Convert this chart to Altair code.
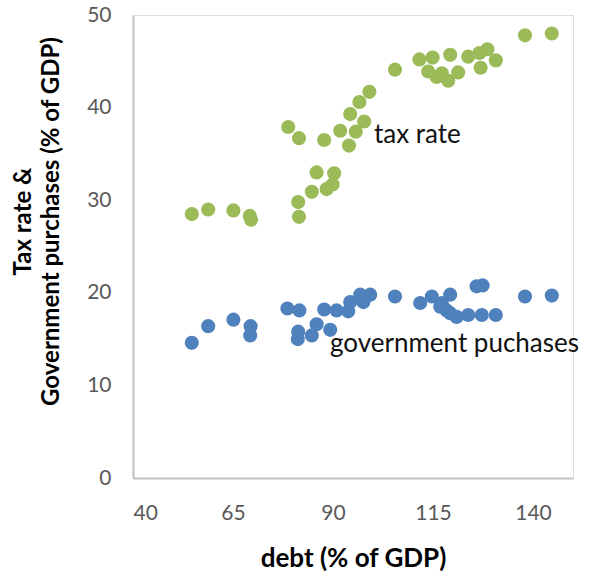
import altair as alt
import pandas as pd

# Debt (% of GDP) against tax rate and government purchases (% of GDP)
debt_tax = [54.7, 58.8, 65.1, 69.2, 69.5, 81.3, 81.5, 84.7, 85.9, 88.4, 90.3, 89.9,
            78.8, 81.5, 87.8, 91.8, 94.0, 95.7, 97.8, 94.3, 96.6, 99.1, 105.5, 111.6,
            114.9, 119.3, 113.8, 115.9, 118.8, 121.3, 117.2, 123.8, 126.6, 128.6,
            126.9, 130.7, 138.0, 144.7]
tax_rate = [28.5, 29.0, 28.9, 28.3, 27.9, 29.8, 28.2, 30.9, 33.0, 31.2, 32.9, 31.7,
            37.9, 36.7, 36.5, 37.5, 35.9, 37.4, 38.5, 39.3, 40.6, 41.7, 44.1, 45.2,
            45.4, 45.7, 43.9, 43.3, 42.9, 43.8, 43.7, 45.5, 45.9, 46.3,
            44.3, 45.1, 47.8, 48.0]

debt_gov = [54.7, 58.8, 65.1, 69.4, 69.3, 78.6, 81.6, 81.3, 81.2, 84.7, 85.9, 89.3,
            87.8, 90.9, 93.8, 94.3, 96.8, 99.3, 97.6, 105.5, 111.8, 114.7, 119.3,
            117.2, 118.4, 120.9, 123.8, 125.9, 127.4, 127.2, 130.7, 138.0, 144.7,
            116.8, 119.3]
gov_purchases = [14.6, 16.4, 17.1, 16.4, 15.4, 18.3, 18.1, 15.8, 15.0, 15.4, 16.6, 16.0,
                 18.2, 18.1, 18.0, 19.0, 19.8, 19.8, 19.0, 19.6, 18.9, 19.6, 19.8,
                 18.9, 18.1, 17.4, 17.6, 20.7, 20.8, 17.6, 17.6, 19.6, 19.7,
                 18.5, 17.8]

series_labels = ["tax rate", "government puchases"]
label_x = [100.25, 89.25]
label_y = [36.2, 13.6]

df = pd.concat([
    pd.DataFrame({"debt": debt_tax, "value": tax_rate, "series": "tax"}),
    pd.DataFrame({"debt": debt_gov, "value": gov_purchases, "series": "gov"}),
])
labels = pd.DataFrame({"debt": label_x, "value": label_y, "text": series_labels})

FONT = "Lato"
AXIS_GREY = "#BFBFBF"
LABEL_GREY = "#595959"

x_enc = alt.X(
    "debt:Q",
    scale=alt.Scale(domain=[40, 150], nice=False, zero=False),
    axis=alt.Axis(
        values=[40, 65, 90, 115, 140], title="debt (% of GDP)", grid=False,
        ticks=False, domainColor=AXIS_GREY, domainWidth=2,
        labelFont=FONT, labelFontSize=21, labelColor=LABEL_GREY, labelPadding=24,
        titleFont=FONT, titleFontSize=26, titleFontWeight="bold", titleColor="#000000",
        titleY=88, titleBaseline="alphabetic",
    ),
)
y_enc = alt.Y(
    "value:Q",
    scale=alt.Scale(domain=[0, 50], nice=False),
    axis=alt.Axis(
        values=[0, 10, 20, 30, 40, 50], title=["Tax rate &", "Government purchases (% of GDP)"],
        grid=False, ticks=False, domainColor=AXIS_GREY, domainWidth=2,
        labelFont=FONT, labelFontSize=21, labelColor=LABEL_GREY, labelPadding=22,
        titleFont=FONT, titleFontSize=24, titleFontWeight="bold", titleColor="#000000",
        titleAngle=270, titleX=-110, titleY=206, titleAlign="center",
        titleBaseline="middle", titleLineHeight=28,
    ),
)

points = alt.Chart(df).mark_circle(size=200, opacity=1).encode(
    x=x_enc,
    y=y_enc,
    color=alt.Color(
        "series:N",
        scale=alt.Scale(domain=["tax", "gov"], range=["#9BBB59", "#4F81BD"]),
        legend=None,
    ),
)

text = alt.Chart(labels).mark_text(
    align="left", baseline="alphabetic", font=FONT, fontSize=26, color="#111111"
).encode(x="debt:Q", y="value:Q", text="text:N")

chart = (
    alt.layer(points, text)
    .properties(
        width=440, height=463,
        autosize=alt.AutoSizeParams(type="none"),
        padding={"left": 133, "top": 15, "right": 19, "bottom": 95},
    )
    .configure_view(stroke=None)
    .configure(background="white")
)

chart.save("out.html", embed_options={"renderer": "svg", "actions": False})
